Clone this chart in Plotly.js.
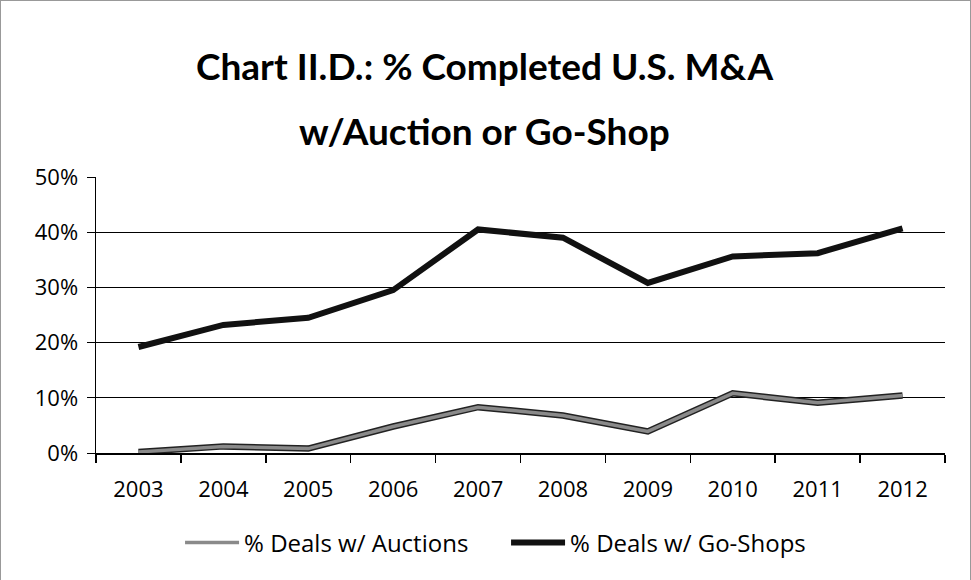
<!DOCTYPE html>
<html>
<head>
<meta charset="utf-8">
<script src="https://cdn.plot.ly/plotly-3.0.1.min.js"></script>
<style>
html,body{margin:0;padding:0;background:#fff;}
#chart{width:969px;height:579px;border-left:1px solid #999;border-top:1px solid #999;border-right:1px solid #999;}
</style>
</head>
<body>
<div id="chart"></div>
<script>
var years = ['2003','2004','2005','2006','2007','2008','2009','2010','2011','2012'];
var auctions = [0.2, 1.2, 0.8, 4.8, 8.3, 6.8, 3.9, 10.8, 9.1, 10.4];
var goShops = [19.2, 23.2, 24.5, 29.5, 40.5, 39.0, 30.8, 35.6, 36.2, 40.7];
var seriesNames = ['% Deals w/ Auctions', '% Deals w/ Go-Shops'];
var titleLines = ['Chart II.D.: % Completed U.S. M&A', 'w/Auction or Go-Shop'];
var yTicks = [0, 10, 20, 30, 40, 50];
var yTickText = ['0%', '10%', '20%', '30%', '40%', '50%'];

var traces = [
  {x: years, y: auctions, type: 'scatter', mode: 'lines', showlegend: false, hoverinfo: 'skip',
   line: {color: '#222', width: 6.5}},
  {x: years, y: auctions, type: 'scatter', mode: 'lines', name: seriesNames[0],
   line: {color: '#8a8a8a', width: 3.5}},
  {x: years, y: goShops, type: 'scatter', mode: 'lines', name: seriesNames[1],
   line: {color: '#111', width: 6}}
];

var titleFont = {family: 'Lato, Open Sans, sans-serif', size: 37, color: '#000', weight: 'bold'};

var layout = {
  width: 969, height: 579,
  margin: {l: 95, r: 25, t: 176, b: 127},
  paper_bgcolor: '#fff', plot_bgcolor: '#fff',
  font: {family: 'Open Sans, Lato, sans-serif', color: '#000', size: 22},
  annotations: [
    {text: titleLines[0], xref: 'paper', yref: 'paper', x: 0.458, y: 1.404,
     xanchor: 'center', yanchor: 'middle', showarrow: false, font: titleFont},
    {text: titleLines[1], xref: 'paper', yref: 'paper', x: 0.458, y: 1.17,
     xanchor: 'center', yanchor: 'middle', showarrow: false, font: titleFont}
  ],
  xaxis: {type: 'category', range: [-0.5, 9.5], showline: true, linecolor: '#000', linewidth: 1.5,
          ticks: 'outside', tickson: 'boundaries', ticklen: 8, tickcolor: '#000', tickwidth: 1.5,
          ticklabelstandoff: 16,
          showgrid: false, zeroline: false, tickfont: {size: 22}, fixedrange: true},
  yaxis: {range: [0, 50], tickvals: yTicks, ticktext: yTickText, showline: true,
          linecolor: '#000', linewidth: 1.5, ticks: 'outside', ticklen: 8, tickcolor: '#000',
          ticklabelstandoff: 4,
          showgrid: true, gridcolor: '#000', gridwidth: 1.2, zeroline: false,
          tickfont: {size: 22}, fixedrange: true},
  legend: {orientation: 'h', x: 0.099, xanchor: 'left', y: -0.326, yanchor: 'middle',
           font: {size: 24}, traceorder: 'normal', itemwidth: 54,
           entrywidth: 257, entrywidthmode: 'pixels'},
  showlegend: true
};

Plotly.newPlot('chart', traces, layout, {displayModeBar: false, staticPlot: true});
</script>
</body>
</html>
